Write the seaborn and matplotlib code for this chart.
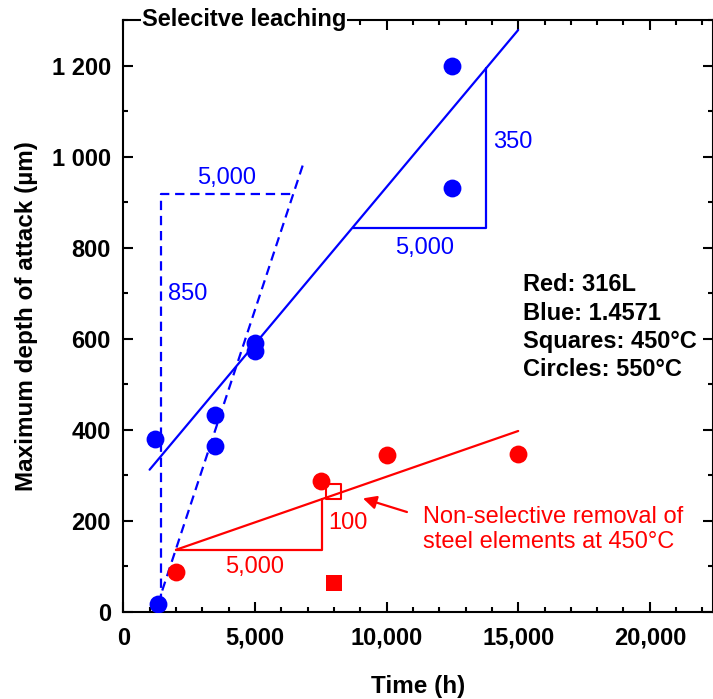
import matplotlib
matplotlib.use("Agg")
import matplotlib.pyplot as plt
import seaborn as sns
import pandas as pd
from matplotlib.ticker import MultipleLocator, FuncFormatter

# ---- data ----
blue_t = [1200, 1300, 3500, 3500, 5000, 5000, 12500, 12500]
blue_d = [380, 18, 432, 365, 590, 572, 1200, 930]
red_circ_t = [2000, 7500, 10000, 15000]
red_circ_d = [88, 288, 345, 347]
red_sq_t = [8000]
red_sq_d = [63]
red_open_t = [8000]
red_open_d = [265]

blue_fit_t = [1000, 15000]
blue_fit_d = [312, 1278]
blue_dash_t = [1300, 6870]
blue_dash_d = [15, 990]
red_fit_t = [2000, 15000]
red_fit_d = [136, 397]

blue_tri_t = [8720, 13790, 13790]
blue_tri_d = [844, 844, 1194]
blue_dtri_t = [1427, 1427, 6457]
blue_dtri_d = [20, 918, 918]
red_tri_t = [2000, 7530, 7530]
red_tri_d = [136, 136, 247]

BLUE = "#0000FF"
RED = "#FF0000"

sns.set_theme(style="ticks")
plt.rcParams['font.family'] = ['Liberation Sans', 'DejaVu Sans']
plt.rcParams['text.color'] = 'black'
plt.rcParams['axes.labelcolor'] = 'black'
plt.rcParams['xtick.color'] = 'black'
plt.rcParams['ytick.color'] = 'black'

FS = 17

fig = plt.figure(figsize=(7.13, 6.99), dpi=100)
ax = fig.add_axes([0.1729, 0.1249, 1.0 - 0.1729, 0.8465])

def line(t, d, color):
    sns.lineplot(x=t, y=d, ax=ax, color=color, lw=1.6, sort=False,
                 estimator=None, zorder=2)

line(blue_fit_t, blue_fit_d, BLUE)
line(blue_tri_t, blue_tri_d, BLUE)
line(red_fit_t, red_fit_d, RED)
line(red_tri_t, red_tri_d, RED)
for t, d in [(blue_dash_t, blue_dash_d), (blue_dtri_t, blue_dtri_d)]:
    sns.lineplot(x=t, y=d, ax=ax, color=BLUE, lw=1.6, sort=False,
                 estimator=None, zorder=2)
    ax.lines[-1].set_dashes((4.2, 2.6))

sns.scatterplot(x=blue_t, y=blue_d, ax=ax, color=BLUE, s=165, marker="o",
                edgecolor=BLUE, linewidth=0, zorder=3)
sns.scatterplot(x=red_circ_t, y=red_circ_d, ax=ax, color=RED, s=165, marker="o",
                edgecolor=RED, linewidth=0, zorder=3)
sns.scatterplot(x=red_sq_t, y=red_sq_d, ax=ax, color=RED, s=125, marker="s",
                edgecolor=RED, linewidth=0, zorder=3)
sns.scatterplot(x=red_open_t, y=red_open_d, ax=ax, s=115, marker="s",
                facecolor="none", edgecolor=RED, linewidth=1.5, zorder=3)

ax.set_xlim(0, 22400)
ax.set_ylim(0, 1300)
ax.xaxis.set_major_locator(MultipleLocator(5000))
ax.xaxis.set_minor_locator(MultipleLocator(1000))
ax.yaxis.set_major_locator(MultipleLocator(200))
ax.yaxis.set_minor_locator(MultipleLocator(100))
ax.xaxis.set_major_formatter(FuncFormatter(lambda v, p: f"{int(v):,}"))
ax.yaxis.set_major_formatter(FuncFormatter(lambda v, p: f"{int(v):,}".replace(",", " ")))
ax.tick_params(which="both", direction="in", top=True, right=True, width=1.5,
               colors="black", labelsize=FS)
ax.tick_params(axis="x", which="both", pad=11)
ax.tick_params(axis="y", which="both", pad=9)
ax.tick_params(which="major", length=7)
ax.tick_params(which="minor", length=3.5)
for lab in ax.get_xticklabels() + ax.get_yticklabels():
    lab.set_fontweight("bold")
for sp in ax.spines.values():
    sp.set_linewidth(1.5)
    sp.set_color("black")
    sp.set_visible(True)

ax.set_xlabel("Time (h)", fontsize=17.5, fontweight="bold", labelpad=18)
ax.set_ylabel("Maximum depth of attack (µm)", fontsize=17.5, fontweight="bold", labelpad=10)

ax.text(700, 1300, "Selecitve leaching", fontsize=FS, fontweight="bold",
        ha="left", va="center", zorder=5,
        bbox=dict(facecolor="white", edgecolor="none", pad=0.5))

ax.text(3930, 953, "5,000", color=BLUE, fontsize=FS, ha="center", va="center")
ax.text(1700, 697, "850", color=BLUE, fontsize=FS, ha="left", va="center")
ax.text(14030, 1031, "350", color=BLUE, fontsize=FS, ha="left", va="center")
ax.text(11440, 798, "5,000", color=BLUE, fontsize=FS, ha="center", va="center")
ax.text(5000, 98, "5,000", color=RED, fontsize=FS, ha="center", va="center")
ax.text(7780, 195, "100", color=RED, fontsize=FS, ha="left", va="center")

ax.annotate("", xy=(9103, 249), xytext=(10775, 219),
            arrowprops=dict(arrowstyle="-|>", color=RED, lw=1.6,
                            mutation_scale=20, shrinkA=0, shrinkB=0))
ax.text(11383, 180, "Non-selective removal of\nsteel elements at 450°C",
        color=RED, fontsize=FS, ha="left", va="center", linespacing=1.15)
ax.text(15190, 625, "Red: 316L\nBlue: 1.4571\nSquares: 450°C\nCircles: 550°C",
        fontsize=FS, fontweight="bold", ha="left", va="center", linespacing=1.3)

fig.savefig("out.png", dpi=100)
